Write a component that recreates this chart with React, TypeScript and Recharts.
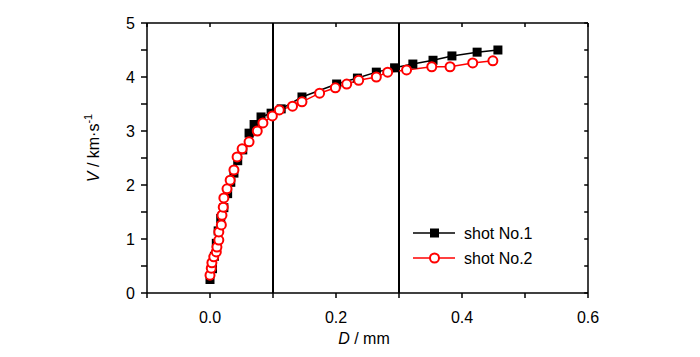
import { LineChart, Line, XAxis, YAxis, ReferenceLine } from "recharts";

const shot1D = [0.0, 0.004, 0.007, 0.01, 0.013, 0.017, 0.022, 0.028, 0.033, 0.038, 0.044, 0.052, 0.062, 0.07, 0.081, 0.097, 0.113, 0.146, 0.201, 0.234, 0.264, 0.293, 0.322, 0.354, 0.384, 0.424, 0.457];
const shot1V = [0.25, 0.45, 0.68, 0.92, 1.15, 1.38, 1.58, 1.84, 2.05, 2.22, 2.45, 2.65, 2.96, 3.12, 3.26, 3.33, 3.41, 3.63, 3.87, 3.98, 4.09, 4.17, 4.24, 4.31, 4.39, 4.46, 4.5];

const shot2D = [0.0, 0.002, 0.003, 0.006, 0.01, 0.011, 0.014, 0.014, 0.018, 0.019, 0.021, 0.022, 0.027, 0.032, 0.038, 0.043, 0.051, 0.062, 0.075, 0.084, 0.099, 0.11, 0.131, 0.146, 0.174, 0.199, 0.217, 0.236, 0.264, 0.282, 0.312, 0.352, 0.381, 0.417, 0.449];
const shot2V = [0.33, 0.46, 0.56, 0.67, 0.76, 0.85, 0.98, 1.13, 1.26, 1.44, 1.59, 1.76, 1.93, 2.09, 2.28, 2.52, 2.67, 2.8, 3.0, 3.15, 3.28, 3.39, 3.46, 3.54, 3.7, 3.8, 3.87, 3.94, 4.0, 4.09, 4.13, 4.19, 4.19, 4.26, 4.3];

const xTicks = [-0.1, 0, 0.1, 0.2, 0.3, 0.4, 0.5, 0.6];
const xLabels = ["0.0", "0.2", "0.4", "0.6"];
const yTicks = [0, 0.5, 1, 1.5, 2, 2.5, 3, 3.5, 4, 4.5, 5];
const markerLines = [0.1, 0.3];

const shot1 = shot1D.map((d, i) => ({ d, v: shot1V[i] }));
const shot2 = shot2D.map((d, i) => ({ d, v: shot2V[i] }));

const font = "'Liberation Sans', Arial, sans-serif";
const axisStyle = { stroke: "#000", strokeWidth: 1.5 };

// inward tick marks on the top and right frame edges
const X_MAX = 0.6;
const Y_MAX = 5;
const topTickLen = 0.075; // in V units
const rightTickLen = 0.006; // in D units

function XTick({ x, y, payload }: any) {
  const label = payload.value.toFixed(1);
  if (!xLabels.includes(label)) return <g />;
  return (
    <text x={x} y={y + 23} textAnchor="middle" fontSize={16} fill="#000" fontFamily={font}>
      {label}
    </text>
  );
}

function YTick({ x, y, payload }: any) {
  if (!Number.isInteger(payload.value)) return <g />;
  return (
    <text x={x - 4} y={y + 6} textAnchor="end" fontSize={16} fill="#000" fontFamily={font}>
      {payload.value}
    </text>
  );
}

function LegendBox() {
  const rows = [
    { name: "shot No.1", color: "#000", square: true },
    { name: "shot No.2", color: "#ff0000", square: false },
  ];
  return (
    <svg width={140} height={60} style={{ position: "absolute", left: 405, top: 218 }}>
      {rows.map((r, i) => {
        const cy = 15 + i * 25;
        return (
          <g key={r.name}>
            <line x1={8} x2={50} y1={cy} y2={cy} stroke={r.color} strokeWidth={1.5} />
            {r.square ? (
              <rect x={25} y={cy - 4.5} width={9} height={9} fill="#000" />
            ) : (
              <circle cx={29.5} cy={cy} r={4.5} fill="#fff" stroke={r.color} strokeWidth={2} />
            )}
            <text x={59} y={cy + 6} fontSize={16} fill="#000" fontFamily={font}>
              {r.name}
            </text>
          </g>
        );
      })}
    </svg>
  );
}

function Square({ cx, cy }: any) {
  if (cx == null || cy == null) return <g />;
  return <rect x={cx - 4.5} y={cy - 4.5} width={9} height={9} fill="#000" />;
}

export default function App() {
  return (
    <div style={{ position: "absolute", left: 0, top: 0, width: 700, height: 357, background: "#fff" }}>
      <LineChart width={700} height={357} margin={{ top: 23, right: 112, left: 107, bottom: 34 }}>
        <XAxis
          dataKey="d"
          type="number"
          domain={[-0.1, X_MAX]}
          ticks={xTicks}
          tick={<XTick />}
          tickSize={5}
          height={30}
          axisLine={axisStyle}
          tickLine={axisStyle}
          interval={0}
        />
        <YAxis
          dataKey="v"
          type="number"
          domain={[0, Y_MAX]}
          ticks={yTicks}
          tick={<YTick />}
          tickSize={6}
          width={40}
          axisLine={axisStyle}
          tickLine={axisStyle}
          interval={0}
          label={{
            content: () => (
              <text transform="translate(99,148) rotate(-90)" textAnchor="middle" fontSize={16} fill="#000" fontFamily={font}>
                <tspan fontStyle="italic">V</tspan>
                <tspan> / km·s</tspan>
                <tspan dy={-7} fontSize={11}>-1</tspan>
              </text>
            ),
          }}
        />
        <ReferenceLine y={Y_MAX} stroke="#000" strokeWidth={1.5} />
        <ReferenceLine x={X_MAX} stroke="#000" strokeWidth={1.5} />
        {xTicks.map((t) => (
          <ReferenceLine
            key={"tx" + t}
            segment={[{ x: t, y: Y_MAX }, { x: t, y: Y_MAX - topTickLen }]}
            stroke="#000"
            strokeWidth={1.5}
          />
        ))}
        {yTicks.map((t) => (
          <ReferenceLine
            key={"ty" + t}
            segment={[{ x: X_MAX, y: t }, { x: X_MAX - rightTickLen, y: t }]}
            stroke="#000"
            strokeWidth={1.5}
          />
        ))}
        {markerLines.map((x) => (
          <ReferenceLine key={x} x={x} stroke="#000" strokeWidth={2} />
        ))}
        <Line
          data={shot1}
          dataKey="v"
          stroke="#000"
          strokeWidth={1.5}
          dot={<Square />}
          activeDot={false}
          isAnimationActive={false}
        />
        <Line
          data={shot2}
          dataKey="v"
          stroke="#ff0000"
          strokeWidth={1.5}
          dot={{ r: 4.5, fill: "#fff", stroke: "#ff0000", strokeWidth: 2 }}
          activeDot={false}
          isAnimationActive={false}
        />
      </LineChart>
      <LegendBox />
      <div
        style={{
          position: "absolute",
          left: 0,
          width: 700,
          top: 330,
          textAlign: "center",
          paddingLeft: 28,
          boxSizing: "border-box",
          fontFamily: font,
          fontSize: 16,
          color: "#000",
        }}
      >
        <i>D</i> / mm
      </div>
    </div>
  );
}
